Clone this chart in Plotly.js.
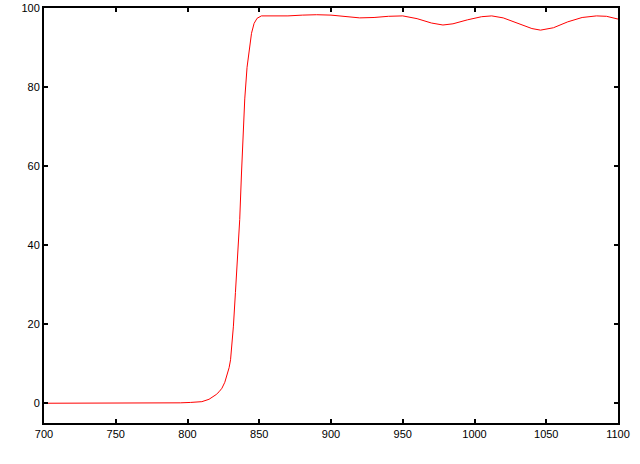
<!DOCTYPE html>
<html>
<head>
<meta charset="utf-8">
<script src="https://cdn.plot.ly/plotly-3.0.1.min.js"></script>
<style>
  html, body { margin: 0; padding: 0; background: #fff; }
  #chart { width: 640px; height: 464px; }
</style>
</head>
<body>
<div id="chart"></div>
<script>
// Wavelength (x) and transmission (y)
const wavelength = [700, 750, 780, 795, 802, 810, 815, 818, 820, 822, 824, 826, 828, 829, 830, 831, 832, 833.4, 835.2, 836.4, 837.6, 838.7, 839.9, 841.5, 842.9, 844.6, 846.4, 848.5, 851.5, 860, 870, 880, 890, 900, 910, 920, 930, 940, 950, 960, 970, 978, 985, 995, 1005, 1012, 1020, 1030, 1040, 1046, 1055, 1065, 1075, 1085, 1092, 1100];
const transmission = [0, 0, 0, 0.1, 0.2, 0.4, 1.0, 1.6, 2.2, 2.9, 3.8, 5.3, 7.5, 9, 11, 14.5, 19.5, 28, 39, 46.5, 58, 68, 77, 85, 89.5, 93.6, 96.1, 97.4, 98, 98, 98, 98.2, 98.3, 98.2, 97.9, 97.5, 97.6, 97.9, 98, 97.3, 96.2, 95.7, 96, 97, 97.8, 98, 97.5, 96.2, 94.8, 94.4, 95, 96.5, 97.6, 98, 97.9, 97.2];
const xTicks = [700, 750, 800, 850, 900, 950, 1000, 1050, 1100];
const yTicks = [0, 20, 40, 60, 80, 100];

const trace = {
  x: wavelength,
  y: transmission,
  type: 'scatter',
  mode: 'lines',
  line: { color: '#ff0000', width: 1 },
  hoverinfo: 'none'
};

const axisCommon = {
  showline: true,
  linecolor: '#000',
  linewidth: 2,
  mirror: 'ticks',
  ticks: 'inside',
  ticklen: 4,
  tickwidth: 2,
  tickcolor: '#000',
  showgrid: false,
  zeroline: false,
  tickfont: { family: 'Liberation Sans, Arial, sans-serif', size: 11, color: '#000' }
};

const layout = {
  width: 640,
  height: 464,
  margin: { l: 44, r: 22, t: 8, b: 41 },
  paper_bgcolor: '#fff',
  plot_bgcolor: '#fff',
  showlegend: false,
  xaxis: Object.assign({}, axisCommon, {
    range: [700, 1100],
    tickmode: 'array',
    tickvals: xTicks,
    ticktext: xTicks.map(String)
  }),
  yaxis: Object.assign({}, axisCommon, {
    range: [-5, 100],
    tickmode: 'array',
    tickvals: yTicks,
    ticktext: yTicks.map(String)
  })
};

Plotly.newPlot('chart', [trace], layout, { staticPlot: true, displayModeBar: false });
</script>
</body>
</html>
